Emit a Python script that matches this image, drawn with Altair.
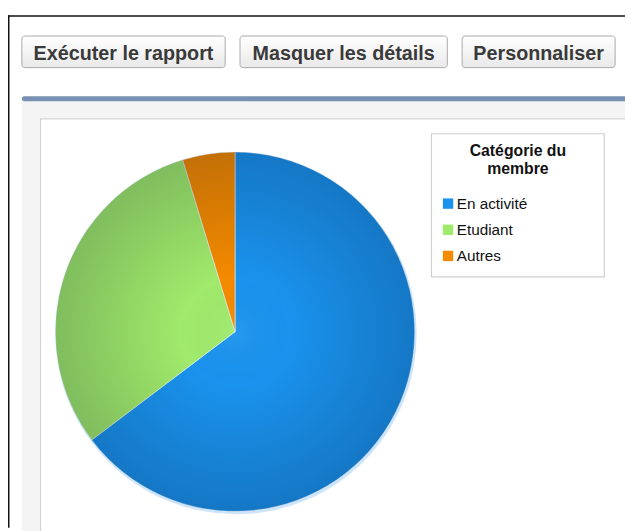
import altair as alt
import pandas as pd

# ---- data ----
categories = ["En activité", "Etudiant", "Autres"]
counts = [55, 26, 4]
colors = ["#1a93ee", "#a0ea6c", "#f48a00"]
legend_title = ["Catégorie du", "membre"]
buttons = ["Exécuter le rapport", "Masquer les détails", "Personnaliser"]

df = pd.DataFrame({"categorie": categories, "nombre": counts, "rang": list(range(len(categories)))})
one = pd.DataFrame({"k": [0]})

FONT = "Liberation Sans"
W, H = 625, 523
CX, CY, R = 230, 324.5, 182


def box(x, x2, y, y2, **kw):
    return alt.Chart(one).mark_rect(**kw).encode(
        x=alt.value(x), x2=alt.value(x2), y=alt.value(y), y2=alt.value(y2)
    )


def label(txt, x, y, **kw):
    return alt.Chart(one).mark_text(text=txt, font=FONT, **kw).encode(
        x=alt.value(x), y=alt.value(y)
    )


btn_fill = alt.LinearGradient(
    gradient="linear", x1=0, y1=0, x2=0, y2=1,
    stops=[alt.GradientStop(color="#ffffff", offset=0),
           alt.GradientStop(color="#e9e9e9", offset=1)],
)

layers = []
# outer black frame
layers.append(box(0, W, 4, 5.5, color="#111111"))
layers.append(box(0, 1.5, 4, H, color="#111111"))

# buttons
btn_pos = [(14, 220), (235, 445), (460, 615)]
for txt, (bx, bx2) in zip(buttons, btn_pos):
    layers.append(box(bx, bx2, 25, 57, fill=btn_fill, stroke="#a9a9a9", strokeWidth=1, cornerRadius=3))
    layers.append(label(txt, (bx + bx2) / 2, 49, fontSize=20, fontWeight="bold",
                        color="#3a3a3a", align="center", baseline="alphabetic"))

# report panel
layers.append(box(14, W + 10, 86, H + 10, fill="#f4f4f4", cornerRadius=4))
layers.append(box(14, W + 10, 86, 91, fill="#7890b3", cornerRadius=3))
layers.append(box(33, W + 10, 109, H + 10, fill="#ffffff", stroke="#d3d3d3", strokeWidth=1.2))

# legend frame + title
layers.append(box(429, 604, 124, 269, fill="#ffffff", stroke="#cfcfcf", strokeWidth=1.2))
layers.append(alt.Chart(one).mark_text(text=legend_title, font=FONT, fontSize=16, fontWeight="bold",
                                       color="#111111", align="center", baseline="alphabetic",
                                       lineHeight=18).encode(x=alt.value(516.5), y=alt.value(147)))

# soft glow below pie
layers.append(alt.Chart(one).mark_arc(outerRadius=R + 1, theta=0, theta2=6.2832,
                                      color="#5aa6ee", opacity=0.3).encode(
    x=alt.value(CX + 1), y=alt.value(CY + 2)))

# pie
pie = alt.Chart(df).mark_arc(outerRadius=R, stroke="#e8f4ff", strokeWidth=0.8, strokeOpacity=0.7).encode(
    theta=alt.Theta("nombre:Q", stack=True),
    color=alt.Color(
        "categorie:N",
        sort=categories,
        scale=alt.Scale(domain=categories, range=colors),
        legend=alt.Legend(
            title=None, orient="none", legendX=438, legendY=187,
            symbolType="square", symbolSize=110, symbolStrokeWidth=0, symbolOpacity=1,
            labelFont=FONT, labelFontSize=15.5, labelColor="#111111", labelOffset=1,
            rowPadding=9.5,
        ),
    ),
    order=alt.Order("rang:Q"),
    x=alt.value(CX), y=alt.value(CY),
)
layers.append(pie)

# radial shading over the pie
shade = alt.RadialGradient(
    gradient="radial", x1=0.5, y1=0.5, r1=0, x2=0.5, y2=0.5, r2=0.5,
    stops=[alt.GradientStop(color="rgba(255,255,255,0.06)", offset=0),
           alt.GradientStop(color="rgba(0,0,0,0.0)", offset=0.3),
           alt.GradientStop(color="rgba(0,10,40,0.2)", offset=1)],
)
layers.append(alt.Chart(one).mark_arc(outerRadius=R, theta=0, theta2=6.2832, fill=shade).encode(
    x=alt.value(CX), y=alt.value(CY)))

chart = alt.layer(*layers).properties(
    width=W, height=H, padding=0, autosize=alt.AutoSizeParams(type="none"), background="#ffffff"
).configure_view(stroke=None)

chart.save("out.html", embed_options={"renderer": "svg", "actions": False})
